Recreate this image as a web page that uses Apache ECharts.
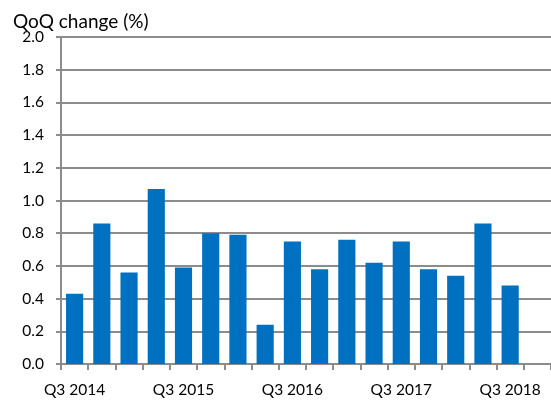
<!DOCTYPE html>
<html lang="en">
<head>
<meta charset="UTF-8" />
<title>QoQ change</title>
<script src="https://cdn.jsdelivr.net/npm/echarts@6/dist/echarts.min.js"></script>
<style>
  html, body { margin: 0; padding: 0; background: #fff; }
  #main { width: 551px; height: 400px; }
</style>
</head>
<body>
<div id="main"></div>
<script type="text/javascript">
// quarters Q3 2014 .. Q3 2018, plus one empty slot the original cuts off at the right
var quarters = ['Q3 2014', 'Q4 2014', 'Q1 2015', 'Q2 2015', 'Q3 2015', 'Q4 2015', 'Q1 2016', 'Q2 2016',
  'Q3 2016', 'Q4 2016', 'Q1 2017', 'Q2 2017', 'Q3 2017', 'Q4 2017', 'Q1 2018', 'Q2 2018', 'Q3 2018', ''];
var qoqChange = [0.43, 0.86, 0.56, 1.07, 0.59, 0.80, 0.79, 0.24,
  0.75, 0.58, 0.76, 0.62, 0.75, 0.58, 0.54, 0.86, 0.48, '-'];
var yTicks = { min: 0, max: 2.0, step: 0.2 };

var gridGray = '#8c8c8c';
var font = 'Lato';

var myChart = echarts.init(document.getElementById('main'));
var option = {
  animation: false,
  title: {
    text: 'QoQ change (%)',
    left: 8,
    top: 7,
    textStyle: { fontFamily: font, fontSize: 19, fontWeight: 'normal', color: '#000' }
  },
  grid: { left: 61, right: -7, top: 37, bottom: 36, containLabel: false },
  xAxis: {
    type: 'category',
    data: quarters,
    axisLine: { lineStyle: { color: gridGray, width: 2 } },
    axisTick: { show: true, interval: 0, length: 6, lineStyle: { color: gridGray, width: 2 } },
    axisLabel: {
      interval: 3,
      margin: 18,
      fontFamily: font, fontSize: 15.5, color: '#000'
    },
    splitLine: { show: false }
  },
  yAxis: {
    type: 'value',
    min: yTicks.min,
    max: yTicks.max,
    interval: yTicks.step,
    axisLine: { show: true, lineStyle: { color: gridGray, width: 2 } },
    axisTick: { show: true, length: 5, lineStyle: { color: gridGray, width: 2 } },
    axisLabel: {
      margin: 17,
      fontFamily: font, fontSize: 15.5, color: '#000',
      formatter: function (v) { return v.toFixed(1); }
    },
    splitLine: { lineStyle: { color: gridGray, width: 2 } }
  },
  series: [{
    type: 'bar',
    data: qoqChange,
    barCategoryGap: '37%',
    itemStyle: { color: '#0070C0' }
  }]
};
myChart.setOption(option);
</script>
</body>
</html>
